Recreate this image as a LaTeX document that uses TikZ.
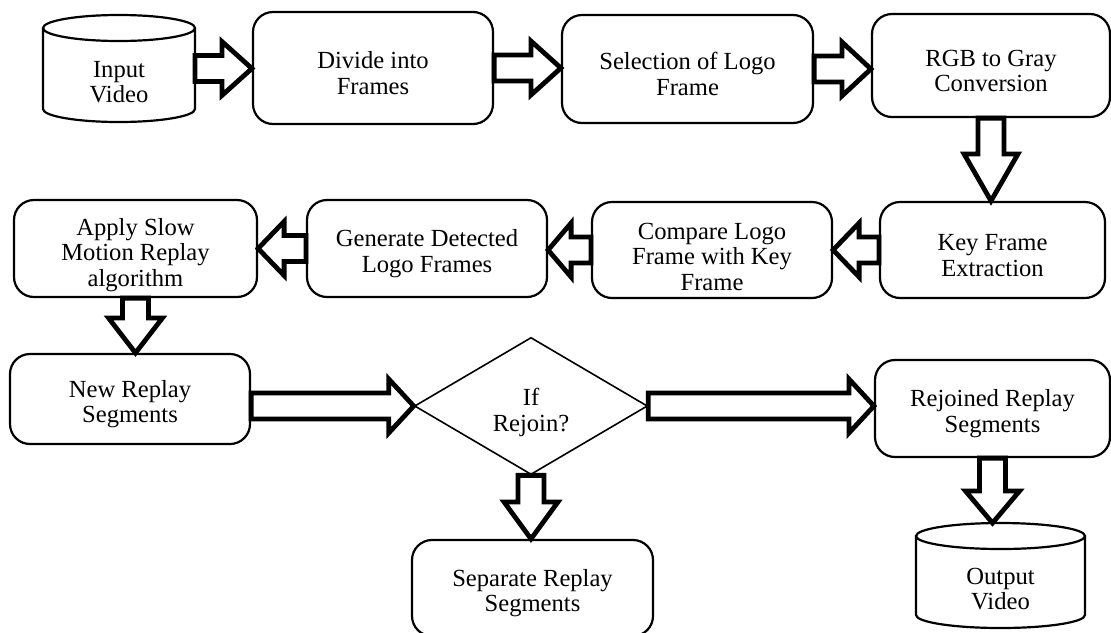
\documentclass[tikz,border=0pt]{standalone}
\usepackage{fontspec}
\setmainfont{Liberation Serif}
\usepackage{tikz}
\usetikzlibrary{shapes}
\usetikzlibrary{calc}
\usetikzlibrary{shapes.geometric}
\tikzset{box/.style={rectangle, rounded corners=10pt, draw, line width=1.1pt, align=center, inner sep=2pt, font=\fontsize{12.3}{12.6}\selectfont}}
\tikzset{video/.style={rectangle, outer sep=0pt, inner sep=0pt, align=center, text height=34pt, font=\fontsize{12.3}{12.6}\selectfont}}
\tikzset{decision/.style={diamond, draw, line width=.8pt, align=center, inner sep=0pt, text height=27.7pt, font=\fontsize{12.3}{12.6}\selectfont}}
\tikzset{hollow arrow/.style={draw, line width=2.4pt, line join=miter}}

% fat outlined arrow from #1 to #2, head length #3 (pt)
\newcommand{\blockarrow}[3]{%
  \draw[hollow arrow] let \p1=(#1), \p2=(#2),
      \n1={veclen(\x2-\x1,\y2-\y1)},
      \n2={(\x2-\x1)/\n1}, \n3={(\y2-\y1)/\n1} in
    ({\x1-6.5*\n3},{\y1+6.5*\n2})
    -- ({\x2-#3*\n2-6.5*\n3},{\y2-#3*\n3+6.5*\n2})
    -- ({\x2-#3*\n2-13.5*\n3},{\y2-#3*\n3+13.5*\n2})
    -- (\x2,\y2)
    -- ({\x2-#3*\n2+13.5*\n3},{\y2-#3*\n3-13.5*\n2})
    -- ({\x2-#3*\n2+6.5*\n3},{\y2-#3*\n3-6.5*\n2})
    -- ({\x1+6.5*\n3},{\y1-6.5*\n2}) -- cycle;
}

% drum (cylinder) round node #1, cap depth #2 (pt)
\newcommand{\drum}[2]{%
  \draw[line width=1.1pt] let \p1=(#1.north west), \p2=(#1.south east),
      \n1={(\x2-\x1)/2} in
    ({\x1+\n1},{\y1-#2}) ellipse [x radius=\n1, y radius=#2pt]
    (\x1,{\y1-#2}) -- (\x1,{\y2+#2})
      arc [start angle=180, end angle=360, x radius=\n1, y radius=#2pt]
      -- (\x2,{\y1-#2});
}

\begin{document}
\begin{tikzpicture}[x=0.5pt,y=-0.5pt]
  \useasboundingbox (0,0) rectangle (1111,632);
  \clip (0,0) rectangle (1111,632);
  \node[video, minimum width=76pt, minimum height=53.5pt] (in) at (119,68.5) {Input\\Video};
  \node[video, minimum width=84.5pt, minimum height=52.5pt] (out) at (1000.5,575.5) {Output\\Video};
  \drum{in}{6.5}
  \drum{out}{6.5}
  \node[decision, minimum width=116.5pt, minimum height=66pt] (dia) at (531,406) {If\\Rejoin?};
  \foreach \name/\x/\y/\w/\h/\tht/\txt in {
    div/373/68/240/112/26.2/{Divide into\\Frames},
    sel/687.5/69/251/108/26.2/{Selection of Logo\\Frame},
    rgb/991/65.5/238/103/26.2/{RGB to Gray\\Conversion},
    key/992.5/250/225/96/26.2/{Key Frame\\Extraction},
    cmp/712/250/240/96/40.3/{Compare Logo\\Frame with Key\\Frame},
    gen/427/248.5/240/97/26.2/{Generate Detected\\Logo Frames},
    app/135.5/248.5/243/97/40.3/{Apply Slow\\Motion Replay\\algorithm},
    new/130/399/240/90/26.2/{New Replay\\Segments},
    rej/992.5/408.5/235/97/26.2/{Rejoined Replay\\Segments},
    sep/532.5/588/241/96/26.2/{Separate Replay\\Segments}%
  } {
    \node[box, minimum width=\w*0.5pt, minimum height=\h*0.5pt, text height=\tht pt] (\name) at (\x,\y) {\txt};
  }
  \foreach \u/\v/\l in {
    in.east/in.east -| div.west/15,
    div.east/div.east -| sel.west/15,
    sel.east/sel.east -| rgb.west/14.5,
    rgb.south/rgb.south |- key.north/23.5,
    key.west/key.west -| cmp.east/13,
    cmp.west/cmp.west -| gen.east/11.5,
    gen.west/gen.west -| app.east/13,
    app.south/app.south |- new.north/17.5,
    new.east |- dia.west/dia.west/12.5,
    dia.east/dia.east -| rej.west/12.5,
    dia.south/dia.south |- sep.north/18.5,
    rej.south/rej.south |- out.north/16%
  }{
    \blockarrow{\u}{\v}{\l}
  }
\end{tikzpicture}
\end{document}
